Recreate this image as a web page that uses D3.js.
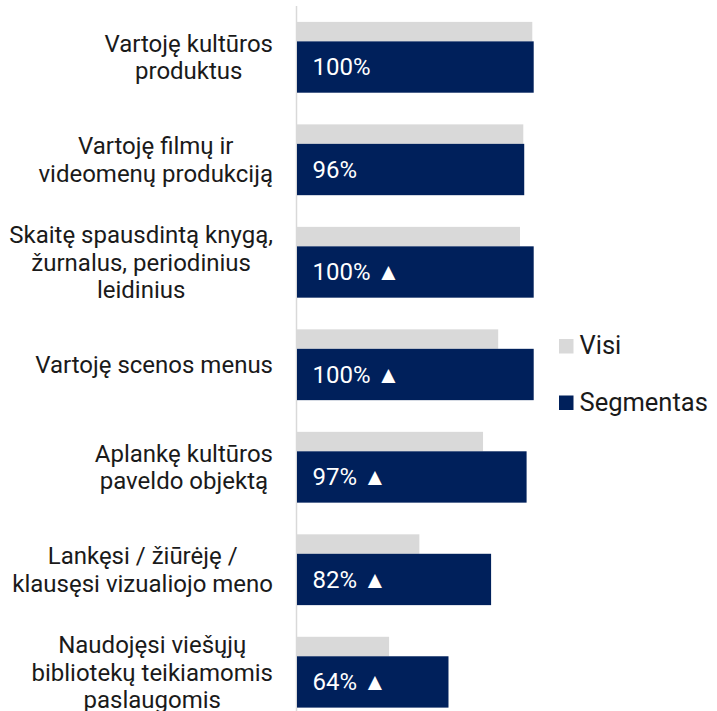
<!DOCTYPE html>
<html>
<head>
<meta charset="utf-8">
<script src="https://cdn.jsdelivr.net/npm/d3@7"></script>
<style>
  body { margin: 0; background: #fff; }
  svg { display: block; font-family: Roboto, "Noto Sans", sans-serif; }
</style>
</head>
<body>
<div id="chart"></div>
<script>
// chart data
var categories = [
    ["Vartoję kultūros", "produktus"],
    ["Vartoję filmų ir", "videomenų produkciją"],
    ["Skaitę spausdintą knygą,", "žurnalus, periodinius", "leidinius"],
    ["Vartoję scenos menus"],
    ["Aplankę kultūros", "paveldo objektą"],
    ["Lankęsi / žiūrėję /", "klausęsi vizualiojo meno"],
    ["Naudojęsi viešųjų", "bibliotekų teikiamomis", "paslaugomis"]
];
var visi = [99.4, 95.6, 94.2, 85, 78.6, 51.7, 38.9];
var segmentas = [100, 96, 100, 100, 97, 82, 64];
var significant = [false, false, true, true, true, true, true];
var seriesNames = ["Visi", "Segmentas"];

var chart = {
    width: 717,
    height: 711,
    gray: "#d9d9d9",
    navy: "#00205b",
    fontSize: 24
};

var svg = d3.select("#chart").append("svg")
    .attr("width", chart.width)
    .attr("height", chart.height);

var idx = d3.range(categories.length);

var x = d3.scaleLinear()
    .domain([0, 100])
    .range([297, 533.7]);

var y = d3.scaleBand()
    .domain(idx)
    .range([6, 723.5])
    .paddingInner(0.309)
    .paddingOuter(0.155);

// share of the band taken by the thin "Visi" bar
var grayPart = 0.275;

// vertical axis line
svg.append("line")
    .attr("x1", x(0) - 0.5).attr("x2", x(0) - 0.5)
    .attr("y1", 6).attr("y2", chart.height)
    .attr("stroke", chart.gray)
    .attr("stroke-width", 1.5);

var rows = svg.selectAll("g.row")
    .data(idx)
    .enter().append("g")
    .attr("class", "row");

rows.append("rect")
    .attr("x", x(0))
    .attr("y", function(i) { return y(i); })
    .attr("width", function(i) { return x(visi[i]) - x(0); })
    .attr("height", y.bandwidth() * grayPart)
    .attr("fill", chart.gray);

rows.append("rect")
    .attr("x", x(0))
    .attr("y", function(i) { return y(i) + y.bandwidth() * grayPart; })
    .attr("width", function(i) { return x(segmentas[i]) - x(0); })
    .attr("height", y.bandwidth() * (1 - grayPart))
    .attr("fill", chart.navy);

// value labels inside navy bars
rows.append("text")
    .attr("x", x(0) + 15.5)
    .attr("y", function(i) { return y(i) + y.bandwidth() * (1 + grayPart) / 2; })
    .attr("dy", "0.35em")
    .attr("fill", "#fff")
    .style("font-size", chart.fontSize + "px")
    .text(function(i) { return segmentas[i] + "%" + (significant[i] ? " ▲" : ""); });

// category labels: lines centred within a block that is right aligned
var lineH = 27.5;
var labelRight = 273;
rows.each(function(i) {
    var g = d3.select(this);
    var lines = categories[i];
    var cy = y(i) + y.bandwidth() / 2;
    var t = g.selectAll("text.cat")
        .data(lines)
        .enter().append("text")
        .attr("class", "cat")
        .attr("text-anchor", "middle")
        .attr("fill", "#1a1a1a")
        .style("font-size", chart.fontSize + "px")
        .attr("y", function(d, k) { return cy + (k - (lines.length - 1) / 2) * lineH; })
        .attr("dy", "0.35em")
        .text(function(d) { return d; });
    var maxW = 0;
    t.each(function() { maxW = Math.max(maxW, this.getComputedTextLength()); });
    t.attr("x", labelRight - maxW / 2);
});

// legend
var legend = svg.selectAll("g.legend")
    .data(seriesNames)
    .enter().append("g")
    .attr("class", "legend")
    .attr("transform", function(d, k) { return "translate(559," + (339 + k * 56.5) + ")"; });

legend.append("rect")
    .attr("width", 14.5).attr("height", 14.5)
    .attr("fill", function(d, k) { return k === 0 ? chart.gray : chart.navy; });

legend.append("text")
    .attr("x", 20.5)
    .attr("y", 7.25)
    .attr("dy", "0.32em")
    .attr("fill", "#1a1a1a")
    .style("font-size", "25.5px")
    .text(function(d) { return d; });
</script>
</body>
</html>
